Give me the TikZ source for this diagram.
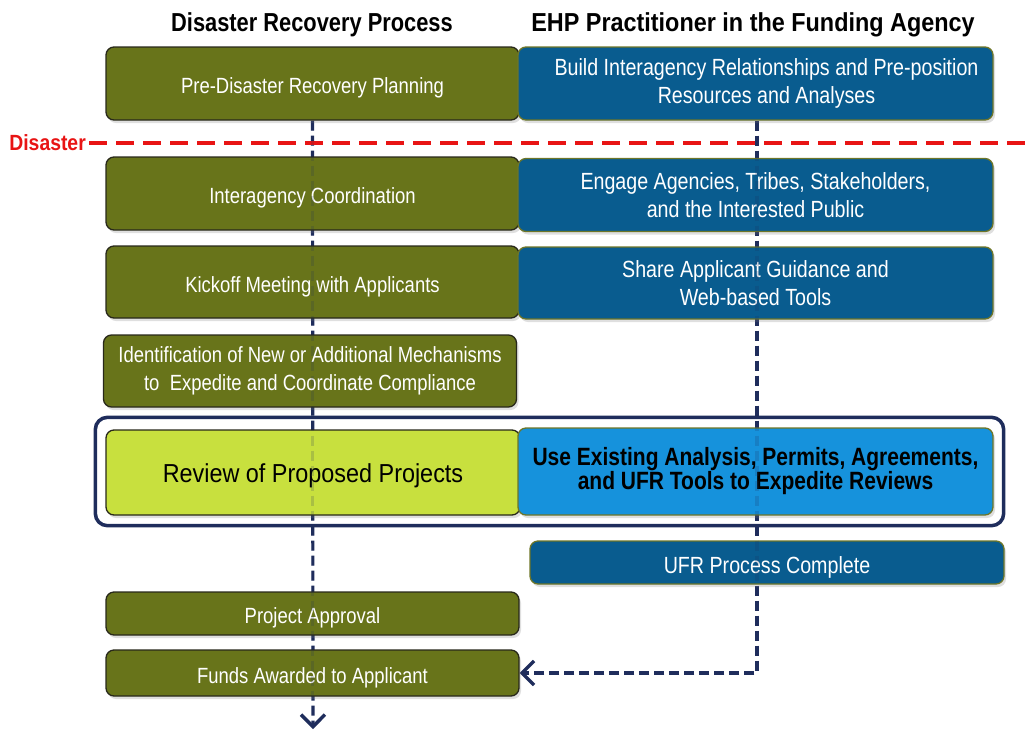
\documentclass[tikz,border=0pt]{standalone}
\usepackage{fontspec}
\setmainfont{Liberation Sans}
\newfontfamily\narrow{Liberation Sans}[FakeStretch=0.84]
\newfontfamily\narrowB{Liberation Sans}[FakeStretch=0.9]
\newfontfamily\narrowC{Liberation Sans}[FakeStretch=0.88]
\usetikzlibrary{shadows,arrows.meta,fit,backgrounds}
\definecolor{olivefill}{RGB}{104,116,26}
\definecolor{oliveedge}{RGB}{40,40,26}
\definecolor{bluefill}{RGB}{9,92,143}
\definecolor{blueedge}{RGB}{110,118,40}
\definecolor{limefill}{RGB}{200,224,62}
\definecolor{brightblue}{RGB}{22,146,220}
\definecolor{navy}{RGB}{31,45,92}
\definecolor{disred}{RGB}{232,20,20}
\tikzset{
  x=1pt, y=-1pt,
  basebox/.style={rounded corners=8pt, line width=1.3pt, align=center, inner sep=0pt,
    drop shadow={shadow xshift=2pt, shadow yshift=-3pt, opacity=0.25}},
  oneline/.style={text height=20pt, text depth=0pt},
  olivebox/.style={basebox, draw=oliveedge, fill=olivefill, text=white,
    font=\narrow\fontsize{22}{28}\selectfont},
  bluebox/.style={basebox, draw=blueedge, fill=bluefill, text=white,
    font=\narrow\fontsize{23.4}{28}\selectfont},
  title/.style={anchor=base, inner sep=0pt, text=black},
  flow/.style={draw=navy, line width=3.2pt, dash pattern=on 10pt off 5pt},
  flowghost/.style={flow, draw opacity=0.18},
  grpframe/.style={draw=navy, line width=3.5pt, rounded corners=12pt},
  tip/.style={-{Straight Barb[length=12pt,width=24pt,line width=3.4pt]}},
}
\begin{document}
\begin{tikzpicture}
\useasboundingbox (0,0) rectangle (1029,732);

% titles
\node[title, font=\narrow\bfseries\fontsize{26}{30}\selectfont] (t1) at (312,31.5) {Disaster Recovery Process};
\node[title, font=\narrowB\bfseries\fontsize{26}{30}\selectfont] (t2) at (753,31.5) {EHP Practitioner in the Funding Agency};

\coordinate (leftend) at (313,729);
\coordinate (rtop) at (757,120);

% left column
\node[olivebox, oneline, minimum width=413pt, minimum height=73pt] (pre) at (312.5,83.5) {Pre-Disaster Recovery Planning};
\node[olivebox, oneline, minimum width=413pt, minimum height=73pt] (coord) at (312.5,193.5) {Interagency Coordination};
\node[olivebox, oneline, minimum width=413pt, minimum height=72pt] (kick) at (312.5,282) {Kickoff Meeting with Applicants};
\node[olivebox, minimum width=413pt, minimum height=72pt] (ident) at (310,371) {Identification of New or Additional Mechanisms\\to\ \ Expedite and Coordinate Compliance};
\node[basebox, draw=oliveedge, fill=limefill, text=black, font=\narrowB\fontsize{26}{30}\selectfont,
      text height=19pt, text depth=0pt,
      minimum width=414pt, minimum height=85pt] (review) at (313,472.5) {Review of Proposed Projects};
\node[olivebox, oneline, minimum width=413pt, minimum height=43pt] (appr) at (312.5,613.5) {Project Approval};
\node[olivebox, oneline, minimum width=413pt, minimum height=46pt] (funds) at (312.5,673) {Funds Awarded to Applicant};

% right column
\node[bluebox, minimum width=475pt, minimum height=73pt] (build) at (755.5,83.5) {\hspace*{22pt}Build Interagency Relationships and Pre-position\\\hspace*{22pt}Resources and Analyses};
\node[bluebox, minimum width=475pt, minimum height=73pt] (engage) at (755.5,195) {Engage Agencies, Tribes, Stakeholders,\\and the Interested Public};
\node[bluebox, minimum width=475pt, minimum height=72pt] (share) at (755.5,283) {Share Applicant Guidance and\\Web-based Tools};
\node[basebox, draw=blueedge, fill=brightblue, text=black, font=\narrow\bfseries\fontsize{25}{24}\selectfont,
      minimum width=475pt, minimum height=87pt] (useex) at (755.5,471.5) {Use Existing Analysis, Permits, Agreements,\\and UFR Tools to Expedite Reviews};
\node[bluebox, text height=21pt, text depth=0pt, minimum width=474pt, minimum height=43pt] (ufr) at (767,562.5) {UFR Process Complete};

% group frame
\node[grpframe, fit=(review)(useex), inner xsep=10pt, inner ysep=10pt] (grp) {};

% disaster line
\node[anchor=east, text=disred, font=\narrowC\bfseries\fontsize{22}{24}\selectfont, inner sep=0pt] (dis) at (86,143) {Disaster};
\coordinate (disend) at (1029,143);
\draw[draw=disred, line width=4pt, dash pattern=on 18pt off 9pt] (dis.east) ++(3,0) -- (disend);

% flow lines: solid behind boxes, faint over boxes
\begin{scope}[on background layer]
\draw[flow, tip] (pre.south) -- (leftend);
\draw[flow, tip] (build.south) ++(1.5,0) |- (funds.east);
\end{scope}
\draw[flowghost] (pre.south) -- (funds.south);
\draw[flowghost] (build.south) ++(1.5,0) -- (ufr.south -| rtop);
\end{tikzpicture}
\end{document}
